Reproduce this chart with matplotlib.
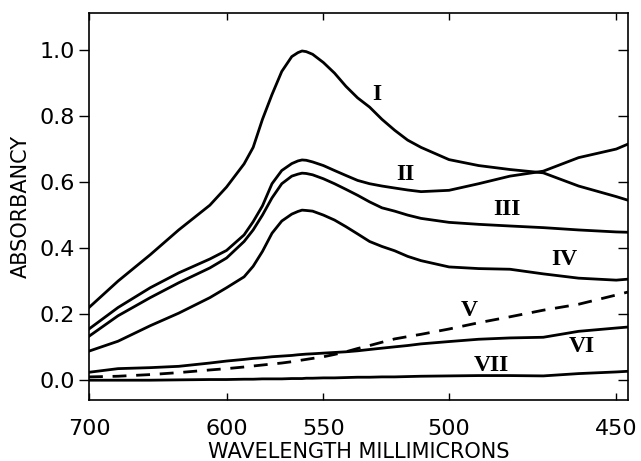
import numpy as np
import matplotlib
matplotlib.use("Agg")
import matplotlib.pyplot as plt
from matplotlib.lines import TICKLEFT

# wavelength in millimicrons (the chart paper is not linear in wavelength)
wavelength = [700, 675, 650, 630, 610, 600, 590, 585, 580, 575, 570, 565, 562, 560, 558, 555,
              550, 545, 540, 535, 530, 525, 520, 515, 510, 500, 490, 480, 470, 460, 450, 447]

curve_1 = [0.22, 0.30, 0.38, 0.455, 0.53, 0.585, 0.655, 0.705, 0.79, 0.865, 0.935, 0.98, 0.992, 0.997, 0.995, 0.987,
           0.962, 0.93, 0.89, 0.855, 0.827, 0.79, 0.757, 0.727, 0.705, 0.668, 0.65, 0.638, 0.628, 0.588, 0.556, 0.545]
curve_2 = [0.155, 0.22, 0.28, 0.325, 0.367, 0.393, 0.44, 0.48, 0.528, 0.595, 0.635, 0.656, 0.664, 0.667, 0.666, 0.661,
           0.65, 0.635, 0.62, 0.605, 0.595, 0.588, 0.582, 0.576, 0.571, 0.575, 0.595, 0.618, 0.633, 0.674, 0.70, 0.715]
curve_3 = [0.133, 0.195, 0.25, 0.295, 0.34, 0.37, 0.42, 0.455, 0.50, 0.552, 0.595, 0.618, 0.624, 0.627, 0.626, 0.622,
           0.61, 0.595, 0.578, 0.56, 0.54, 0.522, 0.512, 0.50, 0.49, 0.478, 0.472, 0.467, 0.462, 0.455, 0.449, 0.448]
curve_4 = [0.088, 0.118, 0.165, 0.203, 0.25, 0.28, 0.313, 0.345, 0.39, 0.445, 0.482, 0.503, 0.511, 0.515, 0.514, 0.512,
           0.50, 0.485, 0.465, 0.443, 0.42, 0.405, 0.392, 0.375, 0.362, 0.343, 0.338, 0.336, 0.322, 0.309, 0.303, 0.306]
curve_5 = [0.01, 0.012, 0.017, 0.023, 0.031, 0.035, 0.04, 0.043, 0.046, 0.049, 0.052, 0.056, 0.059, 0.061, 0.063, 0.066,
           0.071, 0.078, 0.086, 0.096, 0.105, 0.115, 0.125, 0.132, 0.139, 0.155, 0.174, 0.192, 0.212, 0.23, 0.258, 0.267]
curve_6 = [0.024, 0.035, 0.038, 0.042, 0.052, 0.058, 0.063, 0.066, 0.068, 0.071, 0.073, 0.075, 0.077, 0.078, 0.079, 0.08,
           0.082, 0.084, 0.086, 0.089, 0.093, 0.097, 0.101, 0.105, 0.11, 0.117, 0.124, 0.128, 0.13, 0.148, 0.158, 0.161]
curve_7 = [0.0, 0.0, 0.0, 0.001, 0.002, 0.002, 0.003, 0.003, 0.004, 0.004, 0.004, 0.005, 0.005, 0.005, 0.006, 0.006,
           0.007, 0.007, 0.008, 0.009, 0.009, 0.01, 0.01, 0.011, 0.012, 0.013, 0.014, 0.014, 0.013, 0.02, 0.025, 0.027]

labels = ["I", "II", "III", "IV", "V", "VI", "VII"]
label_x = [527, 516, 481, 464, 493, 459, 486]
label_y = [0.864, 0.624, 0.518, 0.364, 0.212, 0.103, 0.045]

xticks = [700, 600, 550, 500, 450]
yticks = [0.0, 0.2, 0.4, 0.6, 0.8, 1.0]

P = 1.85  # fitted to the tick spacing of the chart paper


def fwd(x):
    return -np.power(np.clip(x, 1, None), -P)


def inv(y):
    return np.power(-np.clip(y, None, -1e-30), -1 / P)


fig = plt.figure(figsize=(6.41, 4.61), dpi=100)
ax = fig.add_axes([0.1388, 0.1323, 0.8409, 0.8395])
ax.set_xscale("function", functions=(fwd, inv))

lw = 2.0
for c in [curve_1, curve_2, curve_3, curve_4, curve_6, curve_7]:
    ax.plot(wavelength, c, color="black", lw=lw, solid_joinstyle="round")
ax.plot(wavelength, curve_5, color="black", lw=lw, ls=(0, (5, 3.5)))

for t, x, y in zip(labels, label_x, label_y):
    ax.text(x, y, t, family="Liberation Serif", fontsize=17, fontweight="bold",
            ha="center", va="center")

ax.set_xlim(700, 447)
ax.set_ylim(-0.06, 1.112)
ax.set_xticks(xticks)
ax.set_xticklabels([str(v) for v in xticks])
ax.set_yticks(yticks)
ax.set_yticklabels([f"{v:.1f}" for v in yticks])
ax.xaxis.set_minor_locator(matplotlib.ticker.NullLocator())

ax.tick_params(axis="x", direction="in", length=5, width=1, pad=14, labelsize=16, top=True)
ax.tick_params(axis="y", direction="out", length=7, width=1, pad=3, labelsize=16, right=True)
for t in ax.yaxis.get_major_ticks():
    t.tick2line.set_marker(TICKLEFT)
    t.tick2line.set_markersize(7)

for s in ax.spines.values():
    s.set_linewidth(1.2)

ax.set_xlabel("WAVELENGTH MILLIMICRONS", fontsize=15, labelpad=2)
ax.set_ylabel("ABSORBANCY", fontsize=15, labelpad=6)

fig.savefig("out.png", dpi=100)
